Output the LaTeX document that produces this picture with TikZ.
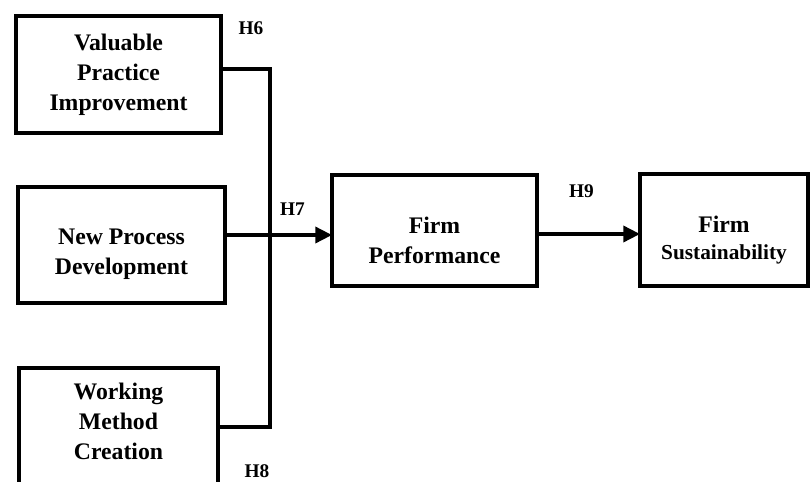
\documentclass[tikz,border=0pt]{standalone}
\usepackage{fontspec}
\setmainfont{Liberation Serif}
\usetikzlibrary{arrows.meta}
\begin{document}
\begin{tikzpicture}[x=0.75pt,y=-0.75pt,
  box/.style={draw, line width=2.6pt, inner sep=0pt, outer sep=0pt},
  boxtext/.style={align=center, font=\fontsize{17.8pt}{22.5pt}\selectfont\bfseries, inner sep=0pt},
  hyp/.style={font=\fontsize{14.5pt}{16pt}\selectfont\bfseries, inner sep=0pt},
  link/.style={line width=2.6pt},
  arrowlink/.style={link, -{Triangle[length=12.5pt,width=12pt]}}]
\useasboundingbox (0,0) rectangle (812,481);
\clip (0,0) rectangle (812,481);

% construct boxes
\node[box, minimum width=153.75pt, minimum height=87.75pt] (vpi) at (118.5,74.5) {};
\node[box, minimum width=155.25pt, minimum height=87pt] (npd) at (121.5,245) {};
\node[box, minimum width=149.25pt, minimum height=99pt] (wmc) at (118.5,434) {};
\node[box, minimum width=153.75pt, minimum height=83.25pt] (fp) at (434.5,230.5) {};
\node[box, minimum width=126pt, minimum height=84pt] (fs) at (724,230) {};

% box captions
\node[boxtext] (vpi-t) at (118.5,75) {Valuable\\Practice\\Improvement};
\node[boxtext] (npd-t) at (121.5,254) {New Process\\Development};
\node[boxtext] (wmc-t) at (118.5,421) {Working\\Method\\Creation};
\node[boxtext] (fp-t) at (434.5,240) {Firm\\Performance};
\node[boxtext, font=\fontsize{17.8pt}{20pt}\selectfont\bfseries] (fs-t) at (724,240) {Firm\\{\fontsize{16pt}{20pt}\selectfont Sustainability}};

% joining bracket on the left
\coordinate (top) at (270,69);
\coordinate (bot) at (270,427);
\coordinate (mid) at (270,235);
\coordinate (right) at (588,234);
\draw[link] (vpi.east |- top) -- (top) -- (bot) -- (wmc.east |- bot);

% arrows
\draw[arrowlink] (npd.east |- mid) -- (fp.west |- mid);
\draw[arrowlink] (fp.east |- right) -- (fs.west |- right);

% hypothesis labels
\node[hyp] (h6) at (251,28) {H6};
\node[hyp] (h7) at (292.5,209) {H7};
\node[hyp] (h8) at (257,471) {H8};
\node[hyp] (h9) at (581.5,191) {H9};
\end{tikzpicture}
\end{document}
